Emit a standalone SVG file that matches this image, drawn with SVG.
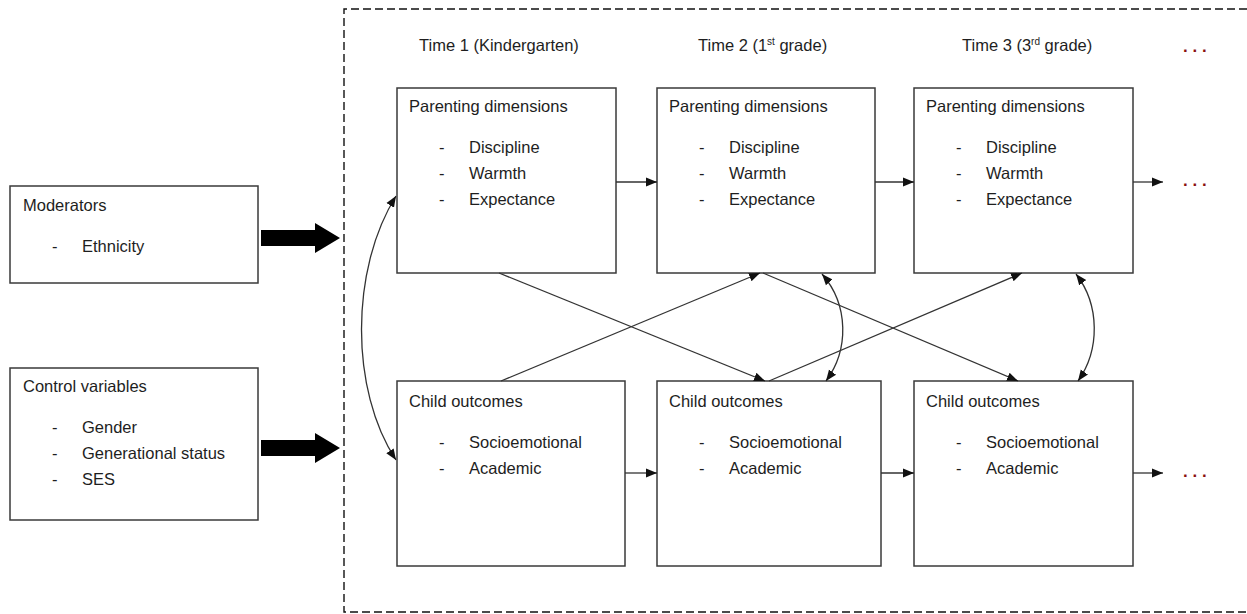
<svg xmlns="http://www.w3.org/2000/svg" width="1247" height="614" viewBox="0 0 1247 614">
<style>
.box{fill:#fff;stroke:#3a3a3a;stroke-width:1.5}
.t{font-family:"Liberation Sans",Arial,sans-serif;font-size:16.5px;fill:#1e1e1e}
.ln{fill:none;stroke:#333;stroke-width:1.3}
.dots{font-family:"Liberation Sans",Arial,sans-serif;font-size:17px;font-weight:bold;fill:#8b1010}
</style>
<defs>
<marker id="ah" viewBox="0 0 10 10" refX="10" refY="5" markerWidth="11" markerHeight="11" markerUnits="userSpaceOnUse" orient="auto-start-reverse">
<path d="M0,1 L10,5 L0,9 z" fill="#111"/>
</marker>
</defs>
<rect x="0" y="0" width="1247" height="614" fill="#fff"/>
<path d="M1247,9 H344 V612 H1247" fill="none" stroke="#111" stroke-width="1.4" stroke-dasharray="8,4"/>
<g id="headers">
<text class="t" x="419" y="51">Time 1 (Kindergarten)</text>
<text class="t" x="698" y="51">Time 2 (1<tspan font-size="10" dy="-6">st</tspan><tspan dy="6"> grade)</tspan></text>
<text class="t" x="962" y="51">Time 3 (3<tspan font-size="10" dy="-6">rd</tspan><tspan dy="6"> grade)</tspan></text>
<text class="dots" x="1183" y="52">. . .</text>
<text class="dots" x="1183" y="186">. . .</text>
<text class="dots" x="1183" y="477">. . .</text>
</g>
<g id="moderators">
<rect class="box" x="10" y="186" width="248" height="97"/>
<text class="t" x="23" y="211">Moderators</text>
<text class="t" x="52" y="252">-</text>
<text class="t" x="82" y="252">Ethnicity</text>
</g>
<g id="controls">
<rect class="box" x="10" y="368" width="248" height="152"/>
<text class="t" x="23" y="392">Control variables</text>
<text class="t" x="52" y="433">-</text><text class="t" x="82" y="433">Gender</text>
<text class="t" x="52" y="459">-</text><text class="t" x="82" y="459">Generational status</text>
<text class="t" x="52" y="485">-</text><text class="t" x="82" y="485">SES</text>
</g>
<g id="p1">
<rect class="box" x="397" y="88" width="219" height="185"/>
<text class="t" x="409" y="112">Parenting dimensions</text>
<text class="t" x="439" y="153">-</text><text class="t" x="469" y="153">Discipline</text>
<text class="t" x="439" y="179">-</text><text class="t" x="469" y="179">Warmth</text>
<text class="t" x="439" y="205">-</text><text class="t" x="469" y="205">Expectance</text>
</g>
<g id="p2">
<rect class="box" x="657" y="88" width="218" height="185"/>
<text class="t" x="669" y="112">Parenting dimensions</text>
<text class="t" x="699" y="153">-</text><text class="t" x="729" y="153">Discipline</text>
<text class="t" x="699" y="179">-</text><text class="t" x="729" y="179">Warmth</text>
<text class="t" x="699" y="205">-</text><text class="t" x="729" y="205">Expectance</text>
</g>
<g id="p3">
<rect class="box" x="914" y="88" width="219" height="185"/>
<text class="t" x="926" y="112">Parenting dimensions</text>
<text class="t" x="956" y="153">-</text><text class="t" x="986" y="153">Discipline</text>
<text class="t" x="956" y="179">-</text><text class="t" x="986" y="179">Warmth</text>
<text class="t" x="956" y="205">-</text><text class="t" x="986" y="205">Expectance</text>
</g>
<g id="c1">
<rect class="box" x="397" y="381" width="228" height="185"/>
<text class="t" x="409" y="407">Child outcomes</text>
<text class="t" x="439" y="448">-</text><text class="t" x="469" y="448">Socioemotional</text>
<text class="t" x="439" y="474">-</text><text class="t" x="469" y="474">Academic</text>
</g>
<g id="c2">
<rect class="box" x="657" y="381" width="224" height="185"/>
<text class="t" x="669" y="407">Child outcomes</text>
<text class="t" x="699" y="448">-</text><text class="t" x="729" y="448">Socioemotional</text>
<text class="t" x="699" y="474">-</text><text class="t" x="729" y="474">Academic</text>
</g>
<g id="c3">
<rect class="box" x="914" y="381" width="219" height="185"/>
<text class="t" x="926" y="407">Child outcomes</text>
<text class="t" x="956" y="448">-</text><text class="t" x="986" y="448">Socioemotional</text>
<text class="t" x="956" y="474">-</text><text class="t" x="986" y="474">Academic</text>
</g>
<g id="connectors">
<path d="M261,230 H315 V223 L340,238 L315,253 V246 H261 z" fill="#000"/>
<path d="M261,440 H315 V433 L340,448 L315,463 V456 H261 z" fill="#000"/>
<path class="ln" d="M616,182 H657" marker-end="url(#ah)"/>
<path class="ln" d="M875,182 H914" marker-end="url(#ah)"/>
<path class="ln" d="M1133,182 H1163" marker-end="url(#ah)"/>
<path class="ln" d="M625,473 H657" marker-end="url(#ah)"/>
<path class="ln" d="M881,473 H914" marker-end="url(#ah)"/>
<path class="ln" d="M1133,473 H1163" marker-end="url(#ah)"/>
<path class="ln" d="M499,273 L765,381" marker-end="url(#ah)"/>
<path class="ln" d="M501,381 L760,273" marker-end="url(#ah)"/>
<path class="ln" d="M763,273 L1018,381" marker-end="url(#ah)"/>
<path class="ln" d="M769,381 L1022,273" marker-end="url(#ah)"/>
<path class="ln" d="M396,196 C350,270 350,390 396,460" marker-start="url(#ah)" marker-end="url(#ah)"/>
<path class="ln" d="M822,274 C849,305 849,350 826,381" marker-start="url(#ah)" marker-end="url(#ah)"/>
<path class="ln" d="M1076,274 C1100,305 1100,350 1078,381" marker-start="url(#ah)" marker-end="url(#ah)"/>
</g>
</svg>
